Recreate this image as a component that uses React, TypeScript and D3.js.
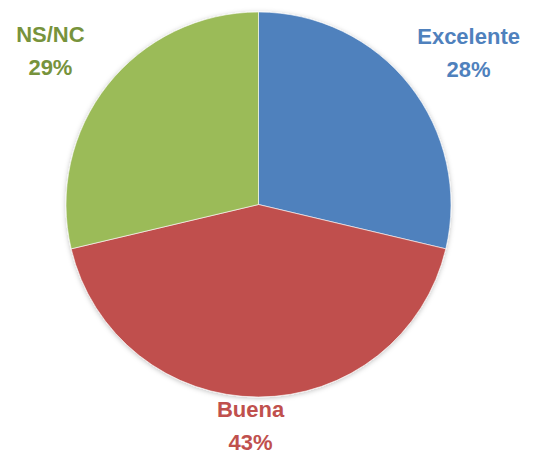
import React from "react";
import * as d3 from "d3";

const categories = ["Excelente", "Buena", "NS/NC"];
const values = [28.7, 42.6, 28.7];
const percentLabels = ["28%", "43%", "29%"];
const sliceColors = ["#4F81BD", "#C0504D", "#9BBB59"];
const textColors = ["#4F81BD", "#C0504D", "#77933C"];
// small nudges from the label arc, like Excel's "best fit" placement
const labelNudge = [[14, 11], [-8, -21], [-12, 9]];

const width = 545, height = 454;
const cx = 258.5, cy = 204.5, radius = 192.5, labelRadius = 250;

const PieChart = () => {
  const ref = React.useRef<SVGSVGElement>(null);

  React.useEffect(() => {
    const svg = d3.select(ref.current);
    svg.selectAll("*").remove();

    const defs = svg.append("defs");
    defs.append("filter")
      .attr("id", "shadow")
      .attr("x", "-10%").attr("y", "-10%").attr("width", "120%").attr("height", "120%")
      .append("feDropShadow")
      .attr("dx", 0).attr("dy", 1).attr("stdDeviation", 2.5)
      .attr("flood-color", "#000").attr("flood-opacity", 0.25);

    const data = categories.map((c, i) => ({ name: c, value: values[i], i }));
    const pie = d3.pie<any>().value(d => d.value).sort(null);
    const arcs = pie(data);
    const arc = d3.arc<any>().innerRadius(0).outerRadius(radius);

    const g = svg.append("g").attr("transform", `translate(${cx},${cy})`);
    g.append("g").attr("filter", "url(#shadow)")
      .selectAll("path")
      .data(arcs)
      .join("path")
      .attr("d", arc)
      .attr("fill", d => sliceColors[d.data.i])
      .attr("stroke", "#fff")
      .attr("stroke-width", 0.6);

    const labels = g.selectAll("text.lbl")
      .data(arcs)
      .join("text")
      .attr("class", "lbl")
      .attr("text-anchor", "middle")
      .attr("font-family", "'Liberation Sans', Arial, sans-serif")
      .attr("font-weight", "bold")
      .attr("font-size", 22)
      .attr("fill", d => textColors[d.data.i])
      .attr("transform", d => {
        const a = (d.startAngle + d.endAngle) / 2;
        const [nx, ny] = labelNudge[d.data.i];
        return `translate(${Math.sin(a) * labelRadius + nx},${-Math.cos(a) * labelRadius + ny})`;
      });
    labels.append("tspan").attr("x", 0).attr("y", -16.5).text(d => d.data.name);
    labels.append("tspan").attr("x", 0).attr("y", 16.5).text(d => percentLabels[d.data.i]);
  }, []);

  return (
    <svg ref={ref} width={width} height={height}
      style={{ position: "absolute", left: 0, top: 0, background: "#fff" }} />
  );
};

export default function App() {
  return <PieChart />;
}
